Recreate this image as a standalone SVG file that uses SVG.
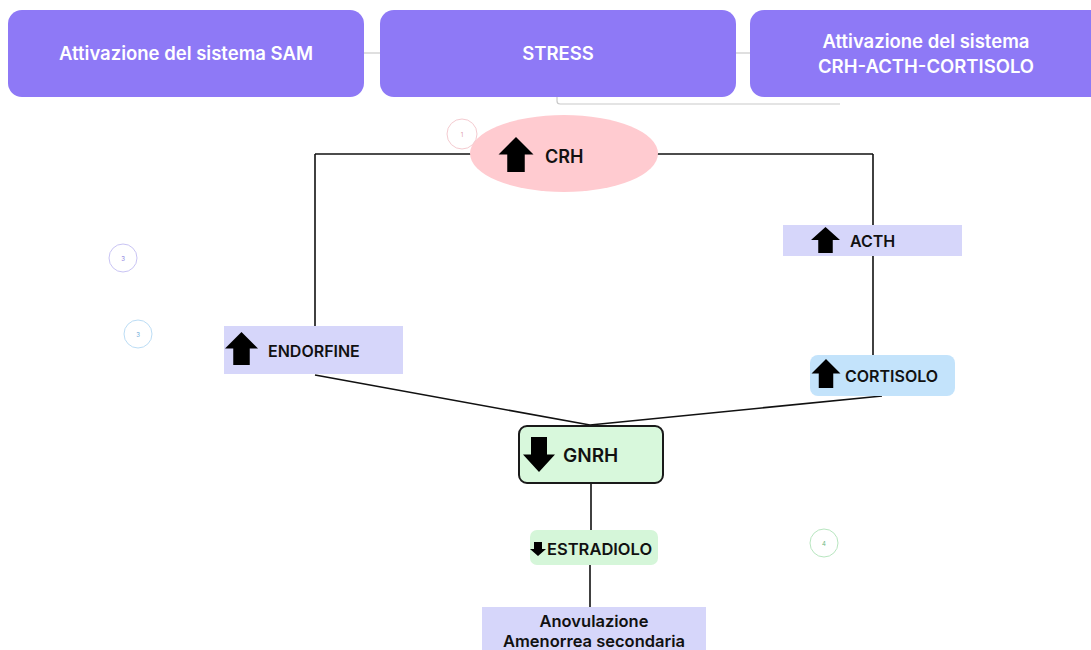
<svg xmlns="http://www.w3.org/2000/svg" width="1091" height="650" viewBox="0 0 1091 650">
<style>
.top{fill:#8E79F6}
.tt{font-family:Inter,"Noto Sans",sans-serif;font-weight:600;font-size:18.5px;fill:#ffffff;text-anchor:middle;dominant-baseline:central}
.lbl{font-family:Inter,"Noto Sans",sans-serif;font-weight:600;fill:#111111;dominant-baseline:central}
.ln{stroke:#111111;stroke-width:1.6;fill:none}
.gl{stroke:#c9c9c9;stroke-width:1.2;fill:none}
.num{font-family:Inter,"Noto Sans",sans-serif;font-size:6px;text-anchor:middle;dominant-baseline:central}
</style>
<defs>
<path id="up" d="M0,-1 L1,0 L0.5,0 L0.5,1 L-0.5,1 L-0.5,0 L-1,0 Z" fill="#000000"/>
</defs>
<rect width="1091" height="650" fill="#ffffff"/>
<g id="connectors">
<line class="gl" x1="364" y1="53" x2="380" y2="53"/>
<line class="gl" x1="736" y1="53" x2="750" y2="53"/>
<path class="gl" d="M557,95 L557,101 Q557,104 560,104 L840,104"/>
<line class="ln" x1="315" y1="154" x2="471" y2="154"/>
<line class="ln" x1="657" y1="154" x2="873" y2="154"/>
<line class="ln" x1="315" y1="154" x2="315" y2="326"/>
<line class="ln" x1="873" y1="154" x2="873" y2="225"/>
<line class="ln" x1="873" y1="256" x2="873" y2="355"/>
<line class="ln" x1="315" y1="375" x2="590" y2="425"/>
<line class="ln" x1="882" y1="396" x2="590" y2="425"/>
<line class="ln" x1="591" y1="484" x2="591" y2="530"/>
<line class="ln" x1="590" y1="565" x2="590" y2="607"/>
</g>
<g id="sam">
<rect class="top" x="8" y="10" width="356" height="87" rx="14"/>
<text class="tt" x="186" y="53">Attivazione del sistema SAM</text>
</g>
<g id="stress">
<rect class="top" x="380" y="10" width="356" height="87" rx="14"/>
<text class="tt" x="558" y="53">STRESS</text>
</g>
<g id="crhacth">
<rect class="top" x="750" y="10" width="360" height="87" rx="14"/>
<text class="tt" x="926" y="41">Attivazione del sistema</text>
<text class="tt" x="926" y="66">CRH-ACTH-CORTISOLO</text>
</g>
<g id="crh">
<ellipse cx="564" cy="153.5" rx="94" ry="38.5" fill="#FFCBD0"/>
<circle cx="462" cy="134" r="15" fill="none" stroke="#F4CBD0" stroke-width="1"/>
<text class="num" x="462" y="134" fill="#e0a0a8">1</text>
<use href="#up" transform="translate(516,154.5) scale(17.5,17.5)"/>
<text class="lbl" x="545" y="156" font-size="18">CRH</text>
</g>
<g id="circle3a">
<circle cx="123" cy="258" r="14" fill="none" stroke="#C9C4F4" stroke-width="1"/>
<text class="num" x="123" y="258" fill="#8a80e0">3</text>
</g>
<g id="circle3b">
<circle cx="138" cy="334" r="14" fill="none" stroke="#BCDDF5" stroke-width="1"/>
<text class="num" x="138" y="334" fill="#6aa8d8">3</text>
</g>
<g id="endorfine">
<rect x="224" y="326" width="179" height="48" fill="#D6D6FA"/>
<use href="#up" transform="translate(241.5,348.5) scale(16.5,16.5)"/>
<text class="lbl" x="268" y="351" font-size="16">ENDORFINE</text>
</g>
<g id="acth">
<rect x="783" y="225" width="179" height="31" fill="#D6D6FA"/>
<use href="#up" transform="translate(825.5,240) scale(14.5,13)"/>
<text class="lbl" x="850" y="240.5" font-size="16">ACTH</text>
</g>
<g id="cortisolo">
<rect x="810" y="355" width="145" height="41" rx="8" fill="#C3E3FB"/>
<use href="#up" transform="translate(826,373.5) scale(14.5,14.5)"/>
<text class="lbl" x="845" y="376" font-size="16">CORTISOLO</text>
</g>
<g id="gnrh">
<rect x="519" y="426" width="144" height="57" rx="8" fill="#D8F8DC" stroke="#1a1a1a" stroke-width="2"/>
<use href="#up" transform="translate(539,454.5) scale(16,-17.5)"/>
<text class="lbl" x="563" y="455" font-size="19">GNRH</text>
</g>
<g id="estradiolo">
<rect x="530" y="530" width="128" height="35" rx="7" fill="#D5F6D9"/>
<use href="#up" transform="translate(538,549) scale(8,-7)"/>
<text class="lbl" x="547" y="548.5" font-size="16.5">ESTRADIOLO</text>
</g>
<g id="circle4">
<circle cx="824" cy="543" r="14" fill="none" stroke="#B8E6C0" stroke-width="1"/>
<text class="num" x="824" y="543" fill="#70b880">4</text>
</g>
<g id="anovulazione">
<rect x="482" y="607" width="224" height="45" fill="#D6D6FA"/>
<text class="lbl" x="594" y="621" font-size="16.5" text-anchor="middle">Anovulazione</text>
<text class="lbl" x="594" y="641" font-size="16.5" text-anchor="middle">Amenorrea secondaria</text>
</g>
</svg>
